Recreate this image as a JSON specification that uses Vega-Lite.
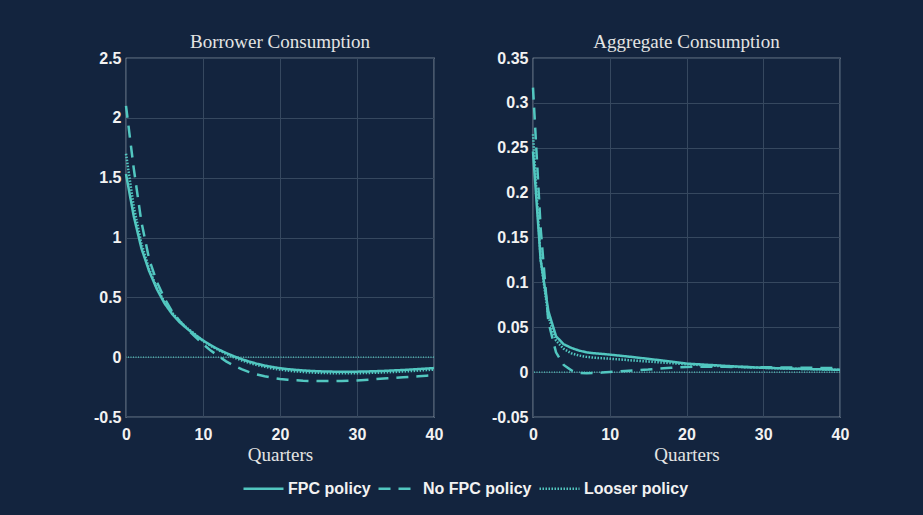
{
  "$schema": "https://vega.github.io/schema/vega-lite/v6.json",
  "background": "#13243e",
  "autosize": {"type": "pad"},
  "padding": {"left": 92, "top": 32, "right": 90, "bottom": 40},
  "spacing": 99,
  "bounds": "flush",
  "config": {
    "view": {"stroke": "#c4c9d1", "strokeWidth": 1.2},
    "axis": {
      "labelFont": "Liberation Sans",
      "labelFontWeight": "bold",
      "labelFontSize": 16,
      "labelColor": "#f2f2f2",
      "gridColor": "#36485f",
      "gridWidth": 1,
      "domain": false,
      "ticks": false,
      "labelPadding": 5,
      "titleFont": "Liberation Serif",
      "titleFontWeight": "normal",
      "titleFontSize": 19,
      "titleColor": "#e4e4e4"
    },
    "title": {
      "font": "Liberation Serif",
      "fontSize": 19,
      "fontWeight": "normal",
      "color": "#e4e4e4",
      "offset": -2,
      "anchor": "middle",
      "frame": "group"
    },
    "legend": {
      "labelFont": "Liberation Sans",
      "labelFontWeight": "bold",
      "labelFontSize": 16,
      "labelColor": "#f2f2f2"
    }
  },
  "data": {
    "values": [
      {"p": "B", "q": 0, "FPC policy": 1.53, "No FPC policy": 2.10, "Looser policy": 1.70},
      {"p": "B", "q": 1, "FPC policy": 1.18, "No FPC policy": 1.58, "Looser policy": 1.26},
      {"p": "B", "q": 2, "FPC policy": 0.91, "No FPC policy": 1.13, "Looser policy": 0.95},
      {"p": "B", "q": 3, "FPC policy": 0.72, "No FPC policy": 0.82, "Looser policy": 0.74},
      {"p": "B", "q": 4, "FPC policy": 0.57, "No FPC policy": 0.63, "Looser policy": 0.58},
      {"p": "B", "q": 5, "FPC policy": 0.45, "No FPC policy": 0.49, "Looser policy": 0.46},
      {"p": "B", "q": 6, "FPC policy": 0.36, "No FPC policy": 0.38, "Looser policy": 0.37},
      {"p": "B", "q": 7, "FPC policy": 0.29, "No FPC policy": 0.30, "Looser policy": 0.30},
      {"p": "B", "q": 8, "FPC policy": 0.235, "No FPC policy": 0.23, "Looser policy": 0.24},
      {"p": "B", "q": 9, "FPC policy": 0.185, "No FPC policy": 0.17, "Looser policy": 0.19},
      {"p": "B", "q": 10, "FPC policy": 0.14, "No FPC policy": 0.11, "Looser policy": 0.135},
      {"p": "B", "q": 11, "FPC policy": 0.10, "No FPC policy": 0.055, "Looser policy": 0.095},
      {"p": "B", "q": 12, "FPC policy": 0.065, "No FPC policy": 0.01, "Looser policy": 0.06},
      {"p": "B", "q": 13, "FPC policy": 0.035, "No FPC policy": -0.035, "Looser policy": 0.027},
      {"p": "B", "q": 14, "FPC policy": 0.008, "No FPC policy": -0.07, "Looser policy": -0.002},
      {"p": "B", "q": 15, "FPC policy": -0.016, "No FPC policy": -0.10, "Looser policy": -0.027},
      {"p": "B", "q": 16, "FPC policy": -0.037, "No FPC policy": -0.125, "Looser policy": -0.048},
      {"p": "B", "q": 17, "FPC policy": -0.055, "No FPC policy": -0.145, "Looser policy": -0.066},
      {"p": "B", "q": 18, "FPC policy": -0.07, "No FPC policy": -0.16, "Looser policy": -0.081},
      {"p": "B", "q": 19, "FPC policy": -0.082, "No FPC policy": -0.172, "Looser policy": -0.094},
      {"p": "B", "q": 20, "FPC policy": -0.092, "No FPC policy": -0.182, "Looser policy": -0.104},
      {"p": "B", "q": 21, "FPC policy": -0.10, "No FPC policy": -0.188, "Looser policy": -0.112},
      {"p": "B", "q": 22, "FPC policy": -0.106, "No FPC policy": -0.193, "Looser policy": -0.119},
      {"p": "B", "q": 23, "FPC policy": -0.111, "No FPC policy": -0.197, "Looser policy": -0.124},
      {"p": "B", "q": 24, "FPC policy": -0.115, "No FPC policy": -0.199, "Looser policy": -0.128},
      {"p": "B", "q": 25, "FPC policy": -0.118, "No FPC policy": -0.20, "Looser policy": -0.131},
      {"p": "B", "q": 26, "FPC policy": -0.12, "No FPC policy": -0.20, "Looser policy": -0.133},
      {"p": "B", "q": 27, "FPC policy": -0.121, "No FPC policy": -0.20, "Looser policy": -0.134},
      {"p": "B", "q": 28, "FPC policy": -0.122, "No FPC policy": -0.199, "Looser policy": -0.135},
      {"p": "B", "q": 29, "FPC policy": -0.122, "No FPC policy": -0.197, "Looser policy": -0.135},
      {"p": "B", "q": 30, "FPC policy": -0.121, "No FPC policy": -0.194, "Looser policy": -0.134},
      {"p": "B", "q": 31, "FPC policy": -0.12, "No FPC policy": -0.19, "Looser policy": -0.133},
      {"p": "B", "q": 32, "FPC policy": -0.118, "No FPC policy": -0.186, "Looser policy": -0.131},
      {"p": "B", "q": 33, "FPC policy": -0.116, "No FPC policy": -0.181, "Looser policy": -0.129},
      {"p": "B", "q": 34, "FPC policy": -0.113, "No FPC policy": -0.177, "Looser policy": -0.126},
      {"p": "B", "q": 35, "FPC policy": -0.11, "No FPC policy": -0.173, "Looser policy": -0.123},
      {"p": "B", "q": 36, "FPC policy": -0.107, "No FPC policy": -0.168, "Looser policy": -0.12},
      {"p": "B", "q": 37, "FPC policy": -0.103, "No FPC policy": -0.164, "Looser policy": -0.116},
      {"p": "B", "q": 38, "FPC policy": -0.099, "No FPC policy": -0.16, "Looser policy": -0.112},
      {"p": "B", "q": 39, "FPC policy": -0.095, "No FPC policy": -0.155, "Looser policy": -0.108},
      {"p": "B", "q": 40, "FPC policy": -0.091, "No FPC policy": -0.15, "Looser policy": -0.104},
      {"p": "A", "q": 0, "FPC policy": 0.246, "No FPC policy": 0.317, "Looser policy": 0.265},
      {"p": "A", "q": 1, "FPC policy": 0.125, "No FPC policy": 0.16, "Looser policy": 0.125},
      {"p": "A", "q": 2, "FPC policy": 0.068, "No FPC policy": 0.056, "Looser policy": 0.062},
      {"p": "A", "q": 3, "FPC policy": 0.040, "No FPC policy": 0.022, "Looser policy": 0.035},
      {"p": "A", "q": 4, "FPC policy": 0.031, "No FPC policy": 0.008, "Looser policy": 0.026},
      {"p": "A", "q": 5, "FPC policy": 0.027, "No FPC policy": 0.002, "Looser policy": 0.021},
      {"p": "A", "q": 6, "FPC policy": 0.024, "No FPC policy": -0.001, "Looser policy": 0.0185},
      {"p": "A", "q": 7, "FPC policy": 0.022, "No FPC policy": -0.0012, "Looser policy": 0.017},
      {"p": "A", "q": 8, "FPC policy": 0.021, "No FPC policy": -0.001, "Looser policy": 0.016},
      {"p": "A", "q": 9, "FPC policy": 0.0203, "No FPC policy": -0.0005, "Looser policy": 0.0155},
      {"p": "A", "q": 10, "FPC policy": 0.0195, "No FPC policy": 0.0002, "Looser policy": 0.015},
      {"p": "A", "q": 11, "FPC policy": 0.0186, "No FPC policy": 0.0008, "Looser policy": 0.0143},
      {"p": "A", "q": 12, "FPC policy": 0.0177, "No FPC policy": 0.0013, "Looser policy": 0.0137},
      {"p": "A", "q": 13, "FPC policy": 0.0168, "No FPC policy": 0.0018, "Looser policy": 0.013},
      {"p": "A", "q": 14, "FPC policy": 0.0158, "No FPC policy": 0.0023, "Looser policy": 0.0124},
      {"p": "A", "q": 15, "FPC policy": 0.0148, "No FPC policy": 0.0028, "Looser policy": 0.0118},
      {"p": "A", "q": 16, "FPC policy": 0.0138, "No FPC policy": 0.0035, "Looser policy": 0.0112},
      {"p": "A", "q": 17, "FPC policy": 0.0128, "No FPC policy": 0.0042, "Looser policy": 0.0106},
      {"p": "A", "q": 18, "FPC policy": 0.0118, "No FPC policy": 0.0048, "Looser policy": 0.01},
      {"p": "A", "q": 19, "FPC policy": 0.0106, "No FPC policy": 0.0053, "Looser policy": 0.0094},
      {"p": "A", "q": 20, "FPC policy": 0.0095, "No FPC policy": 0.0057, "Looser policy": 0.0088},
      {"p": "A", "q": 21, "FPC policy": 0.009, "No FPC policy": 0.0059, "Looser policy": 0.0083},
      {"p": "A", "q": 22, "FPC policy": 0.0085, "No FPC policy": 0.006, "Looser policy": 0.0078},
      {"p": "A", "q": 23, "FPC policy": 0.008, "No FPC policy": 0.006, "Looser policy": 0.0073},
      {"p": "A", "q": 24, "FPC policy": 0.0075, "No FPC policy": 0.006, "Looser policy": 0.0069},
      {"p": "A", "q": 25, "FPC policy": 0.007, "No FPC policy": 0.0059, "Looser policy": 0.0065},
      {"p": "A", "q": 26, "FPC policy": 0.0065, "No FPC policy": 0.0058, "Looser policy": 0.0061},
      {"p": "A", "q": 27, "FPC policy": 0.006, "No FPC policy": 0.0057, "Looser policy": 0.0057},
      {"p": "A", "q": 28, "FPC policy": 0.0056, "No FPC policy": 0.0056, "Looser policy": 0.0054},
      {"p": "A", "q": 29, "FPC policy": 0.0052, "No FPC policy": 0.0055, "Looser policy": 0.0051},
      {"p": "A", "q": 30, "FPC policy": 0.0048, "No FPC policy": 0.0054, "Looser policy": 0.0048},
      {"p": "A", "q": 31, "FPC policy": 0.0046, "No FPC policy": 0.0053, "Looser policy": 0.0045},
      {"p": "A", "q": 32, "FPC policy": 0.0043, "No FPC policy": 0.0052, "Looser policy": 0.0042},
      {"p": "A", "q": 33, "FPC policy": 0.004, "No FPC policy": 0.0051, "Looser policy": 0.004},
      {"p": "A", "q": 34, "FPC policy": 0.0038, "No FPC policy": 0.005, "Looser policy": 0.0038},
      {"p": "A", "q": 35, "FPC policy": 0.0036, "No FPC policy": 0.0049, "Looser policy": 0.0036},
      {"p": "A", "q": 36, "FPC policy": 0.0034, "No FPC policy": 0.0048, "Looser policy": 0.0034},
      {"p": "A", "q": 37, "FPC policy": 0.0032, "No FPC policy": 0.0047, "Looser policy": 0.0032},
      {"p": "A", "q": 38, "FPC policy": 0.003, "No FPC policy": 0.0046, "Looser policy": 0.003},
      {"p": "A", "q": 39, "FPC policy": 0.0028, "No FPC policy": 0.0045, "Looser policy": 0.0028},
      {"p": "A", "q": 40, "FPC policy": 0.0026, "No FPC policy": 0.0044, "Looser policy": 0.0026}
    ]
  },
  "transform": [
    {"fold": ["FPC policy", "No FPC policy", "Looser policy"], "as": ["policy", "v"]}
  ],
  "hconcat": [
    {
      "width": 308,
      "height": 359,
      "title": "Borrower Consumption",
      "transform": [{"filter": "datum.p == 'B'"}],
      "layer": [
        {
          "data": {"values": [{"z": 0}]},
          "mark": {"type": "rule", "color": "#52c7c0", "strokeWidth": 1.2, "strokeDash": [1, 1.5]},
          "encoding": {"y": {"field": "z", "type": "quantitative", "scale": {"domain": [-0.5, 2.5], "nice": false, "zero": false}}}
        },
        {
          "mark": {"type": "line", "color": "#52c7c0", "strokeWidth": 2.5},
          "encoding": {
            "x": {"field": "q", "type": "quantitative", "scale": {"domain": [0, 40], "nice": false},
                  "axis": {"values": [0, 10, 20, 30, 40], "title": "Quarters", "labelFlush": false, "labelPadding": 9, "titlePadding": 3}},
            "y": {"field": "v", "type": "quantitative", "scale": {"domain": [-0.5, 2.5], "nice": false, "zero": false},
                  "axis": {"values": [-0.5, 0, 0.5, 1, 1.5, 2, 2.5], "title": null, "labelExpr": "replace(format(datum.value, '~g'), '\u2212', '-')"}},
            "strokeDash": {"field": "policy", "type": "nominal",
              "scale": {"domain": ["FPC policy", "No FPC policy", "Looser policy"], "range": [[1, 0], [12, 8], [1.5, 1.5]]},
              "legend": {"orient": "none", "direction": "horizontal", "legendX": 116, "legendY": 409, "title": null,
                         "symbolType": "stroke", "symbolSize": 1600, "symbolStrokeWidth": 2.5, "symbolStrokeColor": "#52c7c0",
                         "columnPadding": 2, "labelOffset": 3}},
            "order": {"field": "q", "type": "quantitative"}
          }
        }
      ]
    },
    {
      "width": 307,
      "height": 359,
      "title": "Aggregate Consumption",
      "transform": [{"filter": "datum.p == 'A'"}],
      "layer": [
        {
          "data": {"values": [{"z": 0}]},
          "mark": {"type": "rule", "color": "#52c7c0", "strokeWidth": 1.2, "strokeDash": [1, 1.5]},
          "encoding": {"y": {"field": "z", "type": "quantitative", "scale": {"domain": [-0.05, 0.35], "nice": false, "zero": false}}}
        },
        {
          "mark": {"type": "line", "color": "#52c7c0", "strokeWidth": 2.5},
          "encoding": {
            "x": {"field": "q", "type": "quantitative", "scale": {"domain": [0, 40], "nice": false},
                  "axis": {"values": [0, 10, 20, 30, 40], "title": "Quarters", "labelFlush": false, "labelPadding": 9, "titlePadding": 3}},
            "y": {"field": "v", "type": "quantitative", "scale": {"domain": [-0.05, 0.35], "nice": false, "zero": false},
                  "axis": {"values": [-0.05, 0, 0.05, 0.1, 0.15, 0.2, 0.25, 0.3, 0.35], "title": null, "labelExpr": "replace(format(datum.value, '~g'), '\u2212', '-')"}},
            "strokeDash": {"field": "policy", "type": "nominal",
              "scale": {"domain": ["FPC policy", "No FPC policy", "Looser policy"], "range": [[1, 0], [12, 8], [1.5, 1.5]]},
              "legend": null},
            "order": {"field": "q", "type": "quantitative"}
          }
        }
      ]
    }
  ],
  "resolve": {"scale": {"y": "independent", "strokeDash": "shared"}}
}
